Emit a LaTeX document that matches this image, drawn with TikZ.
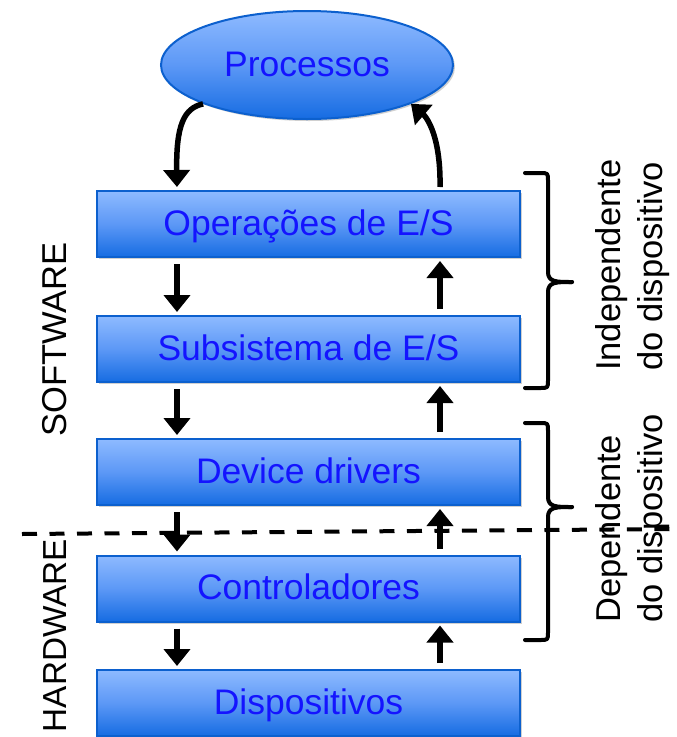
\documentclass[tikz,border=0pt]{standalone}
\usepackage{fontspec}
\setmainfont{Liberation Sans}
\usetikzlibrary{arrows.meta,shapes.geometric,shadows,calc}
\definecolor{txtblue}{RGB}{20,20,255}
\definecolor{boxtop}{RGB}{142,186,255}
\definecolor{boxmid}{RGB}{92,152,246}
\definecolor{boxbot}{RGB}{22,108,226}
\definecolor{boxline}{RGB}{12,96,206}
\tikzset{
  blockfill/.style={draw=boxline, line width=2pt, top color=boxtop, bottom color=boxbot, middle color=boxmid,
    text=txtblue, font=\fontsize{35.5}{40}\selectfont, inner sep=0pt, text height=25pt, text depth=3pt,
    drop shadow={shadow xshift=2pt, shadow yshift=-2pt, opacity=0.3, fill=black!60}},
  layerbox/.style={blockfill, rectangle, minimum width=423pt, minimum height=66pt},
  procnode/.style={blockfill, ellipse, minimum width=292pt, minimum height=108pt},
  flow/.style={line width=5.5pt, -{Triangle[width=26pt,length=17pt]}},
  gap/.style={shorten <=6pt, shorten >=3pt},
  sidelabel/.style={rotate=90, inner sep=0pt, font=\fontsize{34.5}{40}\selectfont, text=black},
  bracket/.style={line width=4pt, line cap=round, line join=round},
  divider/.style={line width=4pt, dash pattern=on 15pt off 12.5pt}
}
\begin{document}
\begin{tikzpicture}[x=1pt,y=-1pt]
\useasboundingbox (0,0) rectangle (677,737);
\fill[white] (0,0) rectangle (677,737);

% nodes
\node[procnode] (p) at (307,65) {Processos};
\node[layerbox] (b1) at (308.5,224) {Operações de E/S};
\node[layerbox] (b2) at (308.5,349) {Subsistema de E/S};
\node[layerbox] (b3) at (308.5,472) {Device drivers};
\node[layerbox] (b4) at (308.5,588.5) {Controladores};
\node[layerbox] (b5) at (308.5,703) {Dispositivos};

\coordinate (L) at (177,0);
\coordinate (R) at (440,0);

% curved arrows to/from Processos
\draw[flow, shorten >=3pt] (p.south west) .. controls (184,108) and (176,125) .. (b1.north -| L);
\draw[flow, shorten <=3pt] (b1.north -| R) .. controls (441,122) and (418,110) .. (p.south east);

% straight arrows
\draw[flow, gap] (b1.south -| L) -- (b2.north -| L);
\draw[flow, gap] (b2.north -| R) -- (b1.south -| R);
\draw[flow, gap] (b2.south -| L) -- (b3.north -| L);
\draw[flow, gap] (b3.north -| R) -- (b2.south -| R);
\draw[flow, gap] (b3.south -| L) -- (b4.north -| L);
\draw[flow, gap] (b4.north -| R) -- (b3.south -| R);
\draw[flow, gap] (b4.south -| L) -- (b5.north -| L);
\draw[flow, gap] (b5.north -| R) -- (b4.south -| R);

% dashed software/hardware divider
\coordinate (d1) at (22,534);
\coordinate (d2) at (677,529);
\draw[divider] (d1) -- (d2);

% braces
\coordinate (t1) at (525,173);
\coordinate (m1) at (572,282);
\coordinate (e1) at (525,388);
\draw[bracket] (t1) -- (540,173) .. controls (548,173) .. (548,181) -- (548,272)
  .. controls (548,282) and (556,282) .. (m1);
\draw[bracket] (m1) .. controls (556,282) and (548,282) .. (548,292) -- (548,380)
  .. controls (548,388) .. (540,388) -- (e1);

\coordinate (t2) at (525,423);
\coordinate (m2) at (572,507);
\coordinate (e2) at (525,640);
\draw[bracket] (t2) -- (540,423) .. controls (548,423) .. (548,431) -- (548,497)
  .. controls (548,507) and (556,507) .. (m2);
\draw[bracket] (m2) .. controls (556,507) and (548,507) .. (548,517) -- (548,632)
  .. controls (548,640) .. (540,640) -- (e2);

% side labels
\node[sidelabel, anchor=base east] (sw) at (66,242) {SOFTWARE};
\node[sidelabel, anchor=base east, font=\fontsize{33.3}{40}\selectfont] (hw) at (66,539) {HARDWARE};

\node[sidelabel, anchor=base west] (ind1) at (620,371) {Independente};
\node[sidelabel, anchor=base west] (ind2) at (662,371) {do dispositivo};
\node[sidelabel, anchor=base west] (dep1) at (620,623) {Dependente};
\node[sidelabel, anchor=base west] (dep2) at (662,623) {do dispositivo};
\end{tikzpicture}
\end{document}
